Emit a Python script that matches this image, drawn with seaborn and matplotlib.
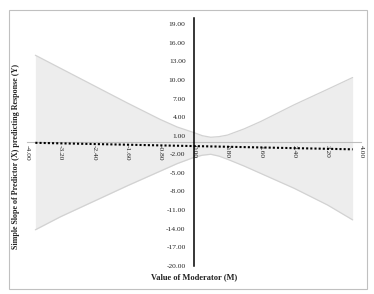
import matplotlib
matplotlib.use('Agg')
import matplotlib.pyplot as plt
import seaborn as sns
from matplotlib.patches import Rectangle

# ---- data ----
moderator = [-3.8, -3.2, -2.4, -1.6, -0.8, -0.4, 0.0, 0.2, 0.4, 0.6, 0.8, 1.2, 1.6, 2.4, 3.2, 3.8]
ci_upper = [14.0, 11.9, 9.1, 6.3, 3.6, 2.4, 1.5, 1.0, 0.75, 0.85, 1.1, 2.1, 3.3, 6.0, 8.5, 10.4]
ci_lower = [-14.2, -12.1, -9.6, -7.1, -4.7, -3.5, -2.5, -2.15, -2.0, -2.3, -2.8, -3.9, -5.1, -7.5, -10.2, -12.6]
slope_m = [-3.8, 3.8]
slope_y = [-0.15, -1.2]
x_ticks = [-4.0, -3.2, -2.4, -1.6, -0.8, 0.0, 0.8, 1.6, 2.4, 3.2, 4.0]
y_ticks = [-20, -17, -14, -11, -8, -5, -2, 1, 4, 7, 10, 13, 16, 19]
x_title = "Value of Moderator (M)"
y_title = "Simple Slope of Predictor (X) predicting Response (Y)"

sns.set_theme(style='white')
plt.rcParams['font.family'] = ['Liberation Serif', 'DejaVu Serif']
plt.rcParams['axes.axisbelow'] = False

fig = plt.figure(figsize=(3.74, 2.94), dpi=100)
ax = fig.add_axes([27/374, 1-265.7/294, 334/374, (265.7-18.1)/294])
ax.set_axisbelow(False)

ax.fill_between(moderator, ci_lower, ci_upper, color='#ededed', lw=0, zorder=1)
sns.lineplot(x=moderator, y=ci_upper, color='#d2d2d2', lw=0.9, ax=ax, zorder=2)
sns.lineplot(x=moderator, y=ci_lower, color='#d2d2d2', lw=0.9, ax=ax, zorder=2)
sns.lineplot(x=slope_m, y=slope_y, color='black', lw=1.5, linestyle=(0, (1, 1)), ax=ax, zorder=6)

ax.set_xlim(-4, 4)
ax.set_ylim(-20, 20)
ax.set_xticks(x_ticks)
ax.set_xticklabels([f"{v:.2f}" for v in x_ticks])
ax.set_yticks(y_ticks)
ax.set_yticklabels([f"{v:.2f}" for v in y_ticks])

for s in ['top', 'right']:
    ax.spines[s].set_visible(False)
ax.spines['left'].set_position(('data', 0))
ax.spines['left'].set_color('black')
ax.spines['left'].set_linewidth(1.1)
ax.spines['left'].set_zorder(5)
ax.spines['bottom'].set_position(('data', 0))
ax.spines['bottom'].set_color('#bfbfbf')
ax.spines['bottom'].set_linewidth(0.8)
ax.spines['bottom'].set_zorder(3)
ax.xaxis.set_zorder(4)
ax.yaxis.set_zorder(4)

ax.tick_params(axis='x', direction='in', length=3, width=0.8, color='#bfbfbf',
               labelsize=5.4, pad=2, labelcolor='#222222', labelrotation=-90)
ax.tick_params(axis='y', direction='out', length=2.5, width=0.8, color='#808080',
               labelsize=5.4, pad=3.5, labelcolor='#222222')
for lab in ax.get_xticklabels():
    lab.set_rotation(-90)
    lab.set_ha('center')
    lab.set_va('top')
ax.patch.set_alpha(0)

fig.text(16/374, 1-156.5/294, y_title, rotation=90, ha='center', va='center',
         fontsize=5.8, fontweight='bold', color='#222222')
fig.text(194/374, 1-277/294, x_title, ha='center', va='center',
         fontsize=6.0, fontweight='bold', color='#222222')

fig.patches.append(Rectangle((9/374, 5/294), 358/374, 279/294, transform=fig.transFigure,
                             fill=False, ec='#c0c0c0', lw=0.8))

fig.savefig('out.png', dpi=100)
